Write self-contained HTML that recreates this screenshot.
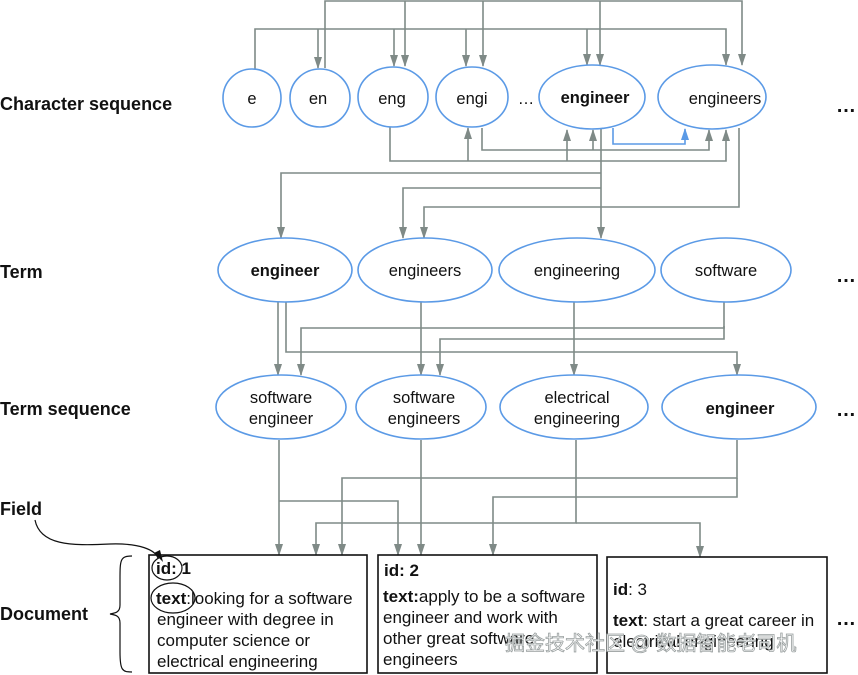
<!DOCTYPE html>
<html><head><meta charset="utf-8"><style>
html,body{margin:0;padding:0;background:#fff;}
svg{display:block;}
text{font-family:"Liberation Sans",sans-serif;}
.lab{font-weight:bold;font-size:18px;fill:#111;}
.n{font-size:16.5px;fill:#111;text-anchor:middle;}
.d{font-size:17px;fill:#111;}
.el{font-size:20px;font-weight:bold;fill:#111;text-anchor:middle;}
</style></head><body>
<svg width="858" height="675" viewBox="0 0 858 675" xmlns="http://www.w3.org/2000/svg">
<defs>
<marker id="ad" markerWidth="10" markerHeight="12" refX="5" refY="11" orient="0" markerUnits="userSpaceOnUse">
<path d="M1,0 L9,0 L5,12 Z" fill="#7f8a87"/>
</marker>
<marker id="au" markerWidth="10" markerHeight="12" refX="5" refY="1" orient="0" markerUnits="userSpaceOnUse">
<path d="M1,12 L9,12 L5,0 Z" fill="#7f8a87"/>
</marker>
<marker id="ab" markerWidth="10" markerHeight="12" refX="5" refY="1" orient="0" markerUnits="userSpaceOnUse">
<path d="M1,12 L9,12 L5,0 Z" fill="#5b9ae6"/>
</marker>
</defs>

<text class="lab" x="0" y="110">Character sequence</text>
<text class="lab" x="0" y="278">Term</text>
<text class="lab" x="0" y="415">Term sequence</text>
<text class="lab" x="0" y="515">Field</text>
<text class="lab" x="0" y="620">Document</text>

<g fill="none" stroke="#7f8a87" stroke-width="1.6">
<polyline points="325,68 325,1 742,1 742,65" marker-end="url(#ad)"/>
<line x1="405" y1="1" x2="405" y2="66" marker-end="url(#ad)"/>
<line x1="483" y1="1" x2="483" y2="66" marker-end="url(#ad)"/>
<line x1="600" y1="1" x2="600" y2="65" marker-end="url(#ad)"/>
<polyline points="255,69 255,29 726,29 726,65" marker-end="url(#ad)"/>
<line x1="318" y1="29" x2="318" y2="68" marker-end="url(#ad)"/>
<line x1="394" y1="29" x2="394" y2="66" marker-end="url(#ad)"/>
<line x1="466" y1="29" x2="466" y2="66" marker-end="url(#ad)"/>
<line x1="587" y1="29" x2="587" y2="65" marker-end="url(#ad)"/>
<polyline points="390,127 390,161 726,161 726,130" marker-end="url(#au)"/>
<line x1="468" y1="161" x2="468" y2="128" marker-end="url(#au)"/>
<line x1="567" y1="161" x2="567" y2="130" marker-end="url(#au)"/>
<polyline points="482,128 482,150 709,150 709,130" marker-end="url(#au)"/>
<line x1="593" y1="150" x2="593" y2="130" marker-end="url(#au)"/>
<line x1="601" y1="129" x2="601" y2="238" marker-end="url(#ad)"/>
<polyline points="601,173 281,173 281,238" marker-end="url(#ad)"/>
<polyline points="601,188 403,188 403,238" marker-end="url(#ad)"/>
<polyline points="739,128 739,207 424,207 424,238" marker-end="url(#ad)"/>
<line x1="278" y1="302" x2="278" y2="375" marker-end="url(#ad)"/>
<polyline points="286,302 286,352 737,352 737,375" marker-end="url(#ad)"/>
<line x1="421" y1="302" x2="421" y2="375" marker-end="url(#ad)"/>
<line x1="574" y1="302" x2="574" y2="375" marker-end="url(#ad)"/>
<polyline points="724,302 724,328 301,328 301,375" marker-end="url(#ad)"/>
<polyline points="724,326 724,339 440,339 440,375" marker-end="url(#ad)"/>
<line x1="279" y1="440" x2="279" y2="555" marker-end="url(#ad)"/>
<polyline points="279,501 398,501 398,555" marker-end="url(#ad)"/>
<line x1="421" y1="440" x2="421" y2="555" marker-end="url(#ad)"/>
<polyline points="576,440 576,523 316,523 316,555" marker-end="url(#ad)"/>
<polyline points="576,523 700,523 700,557" marker-end="url(#ad)"/>
<polyline points="737,440 737,478 342,478 342,555" marker-end="url(#ad)"/>
<polyline points="737,478 737,497 493,497 493,555" marker-end="url(#ad)"/>
</g>
<polyline points="613,128 613,144 685,144 685,129" fill="none" stroke="#5b9ae6" stroke-width="1.6" marker-end="url(#ab)"/>

<g fill="#fff" stroke="#5b9ae6" stroke-width="1.6">
<ellipse cx="252" cy="98" rx="29" ry="29"/>
<ellipse cx="320" cy="98" rx="30" ry="29"/>
<ellipse cx="393" cy="97" rx="35" ry="30"/>
<ellipse cx="472" cy="97" rx="36" ry="30"/>
<ellipse cx="592" cy="97" rx="53" ry="32"/>
<ellipse cx="712" cy="97" rx="54" ry="32"/>
<ellipse cx="285" cy="270" rx="67" ry="32"/>
<ellipse cx="425" cy="270" rx="67" ry="32"/>
<ellipse cx="577" cy="270" rx="78" ry="32"/>
<ellipse cx="726" cy="270" rx="65" ry="32"/>
<ellipse cx="281" cy="407" rx="65" ry="32"/>
<ellipse cx="421" cy="407" rx="65" ry="32"/>
<ellipse cx="574" cy="407" rx="74" ry="32"/>
<ellipse cx="739" cy="407" rx="77" ry="32"/>
</g>
<text class="n" x="252" y="104">e</text>
<text class="n" x="318" y="104">en</text>
<text class="n" x="392" y="104">eng</text>
<text class="n" x="472" y="104">engi</text>
<text class="n" x="526" y="104">…</text>
<text class="n" x="595" y="103" font-weight="bold">engineer</text>
<text class="n" x="725" y="104">engineers</text>
<text class="n" x="285" y="276" font-weight="bold">engineer</text>
<text class="n" x="425" y="276">engineers</text>
<text class="n" x="577" y="276">engineering</text>
<text class="n" x="726" y="276">software</text>
<text class="n" x="281" y="403">software</text>
<text class="n" x="281" y="424">engineer</text>
<text class="n" x="424" y="403">software</text>
<text class="n" x="424" y="424">engineers</text>
<text class="n" x="577" y="403">electrical</text>
<text class="n" x="577" y="424">engineering</text>
<text class="n" x="740" y="414" font-weight="bold">engineer</text>
<text class="el" x="846" y="112">…</text>
<text class="el" x="846" y="282">…</text>
<text class="el" x="846" y="416">…</text>
<text class="el" x="846" y="625">…</text>

<path d="M35,520 C40,545 70,546 110,544 C140,543 155,550 158,558" fill="none" stroke="#111" stroke-width="1.2"/>
<path d="M154,553 L163,562 L160,550 Z" fill="#111"/>
<path d="M132,556 C120,556 120,560 120,580 L120,605 C120,612 116,613 110,614 C116,615 120,616 120,623 L120,652 C120,670 122,672 132,672" fill="none" stroke="#111" stroke-width="1.2"/>

<g fill="none" stroke="#111" stroke-width="1.6">
<rect x="149" y="555" width="218" height="118"/>
<rect x="378" y="555" width="219" height="118"/>
<rect x="607" y="557" width="220" height="116"/>
<ellipse cx="167" cy="568" rx="15" ry="12" stroke-width="1.2"/>
<ellipse cx="173" cy="598" rx="22" ry="15" stroke-width="1.2"/>
</g>
<text class="d" x="156" y="574"><tspan font-weight="bold">id:</tspan> <tspan font-weight="bold">1</tspan></text>
<text class="d" x="156" y="604"><tspan font-weight="bold">text</tspan>:looking for a software</text>
<text class="d" x="157" y="625">engineer with degree in</text>
<text class="d" x="157" y="646">computer science or</text>
<text class="d" x="157" y="667">electrical engineering</text>
<text class="d" x="384" y="576" font-weight="bold">id: 2</text>
<text class="d" x="383" y="602"><tspan font-weight="bold">text:</tspan>apply to be a software</text>
<text class="d" x="383" y="623">engineer and work with</text>
<text class="d" x="383" y="644">other great software</text>
<text class="d" x="383" y="665">engineers</text>
<text class="d" x="613" y="595"><tspan font-weight="bold">id</tspan>: 3</text>
<text class="d" x="613" y="626"><tspan font-weight="bold">text</tspan>: start a great career in</text>
<text class="d" x="613" y="647">electrical engineering</text>
<text x="505" y="650" font-size="20" fill="#fff" stroke="#9aa0a0" stroke-width="0.8" font-family="'Noto Sans CJK SC',sans-serif">掘金技术社区 @ 数据智能老司机</text>
</svg>
</body></html>
